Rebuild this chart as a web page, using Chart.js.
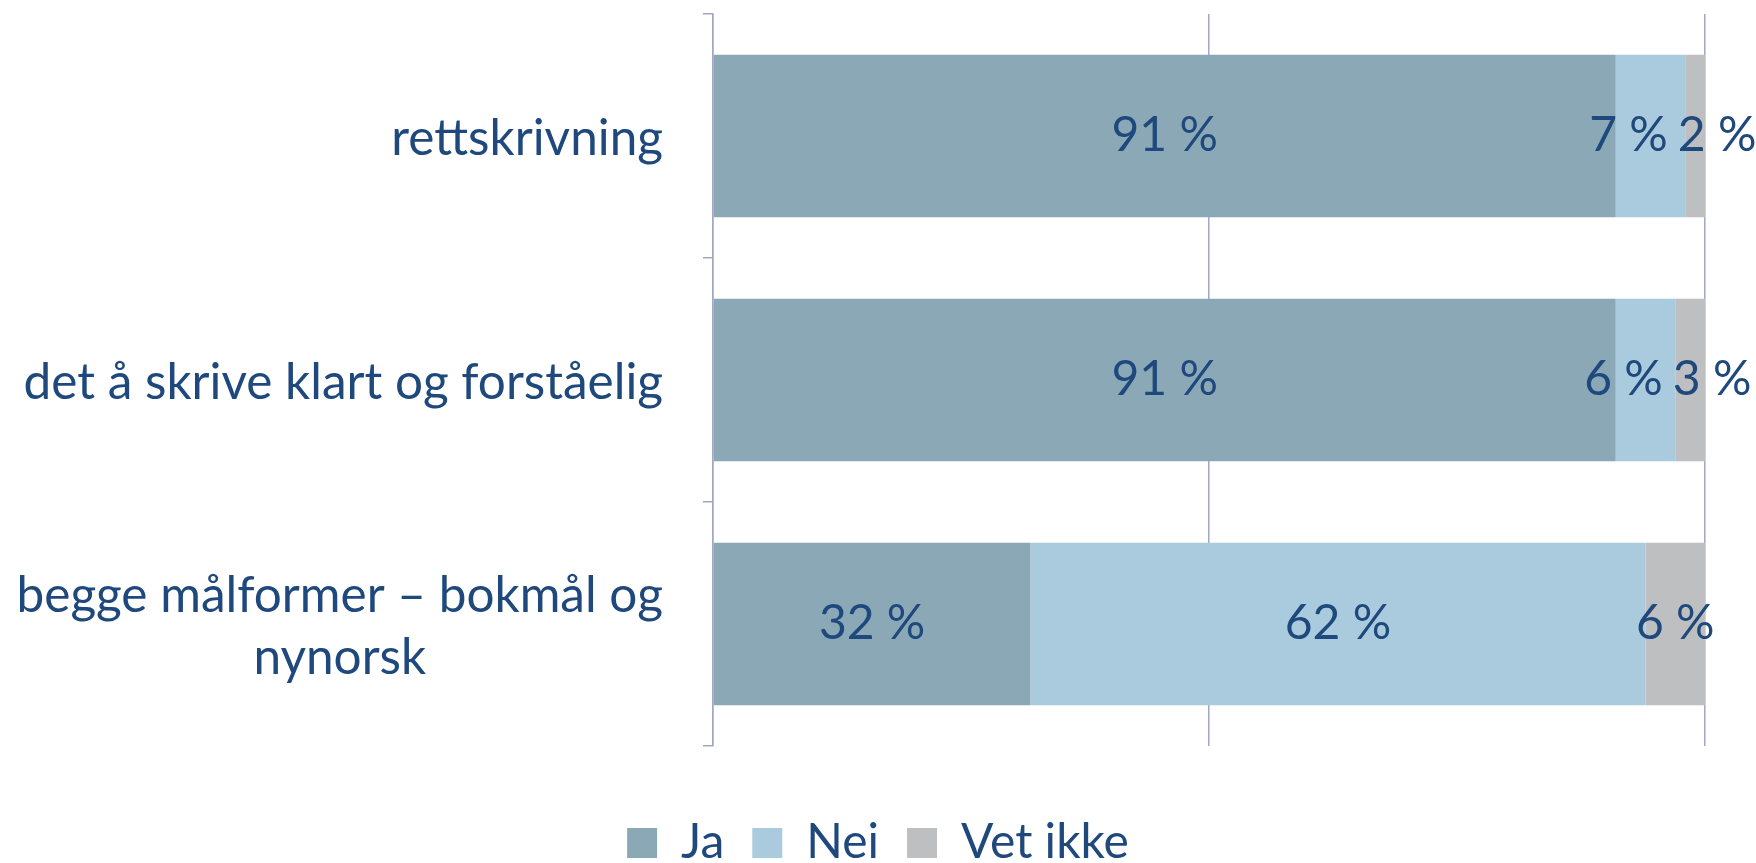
<!DOCTYPE html>
<html>
<head>
<meta charset="utf-8">
<script src="https://cdn.jsdelivr.net/npm/chart.js@4.4.0/dist/chart.umd.min.js"></script>
<style>
  html, body { margin: 0; padding: 0; background: #ffffff; }
  #wrap { width: 1756px; height: 863px; position: relative; }
</style>
</head>
<body>
<div id="wrap"><canvas id="c" width="1756" height="863"></canvas></div>
<script>
// ---- data ----
const categories = [
  ["rettskrivning"],
  ["det å skrive klart og forståelig"],
  ["begge målformer – bokmål og", "nynorsk"]
];
const seriesNames = ["Ja", "Nei", "Vet ikke"];
const jaValues = [91, 91, 32];
const neiValues = [7, 6, 62];
const vetIkkeValues = [2, 3, 6];
const xTicks = [0, 50, 100];

// ---- styles ----
const FONT = "Lato, 'Noto Sans', sans-serif";
const TEXT = '#1F497D';
const GRID = '#A3A6C2';
const COLORS = ['#8BA8B6', '#A9CBDD', '#BEBFC1'];
const LABEL_SIZE = 49.5;
const DATA_SIZE = 48;

const catLabelsPlugin = {
  id: 'catLabels',
  afterDraw(chart) {
    const ctx = chart.ctx;
    const ys = chart.scales.y;
    const right = chart.chartArea.left - 50;
    ctx.save();
    ctx.font = LABEL_SIZE + 'px ' + FONT;
    ctx.fillStyle = TEXT;
    ctx.textBaseline = 'middle';
    const lh = LABEL_SIZE * 1.25;
    chart.data.labels.forEach((lines, i) => {
      const cy = ys.getPixelForValue(i) + 3;
      const widths = lines.map(l => ctx.measureText(l).width);
      const w = Math.max(...widths);
      const cx = right - w / 2;
      const y0 = cy - (lines.length - 1) * lh / 2;
      ctx.textAlign = 'center';
      lines.forEach((l, k) => ctx.fillText(l, lines.length > 1 ? cx : right - widths[k] / 2, y0 + k * lh));
    });
    ctx.restore();
  }
};

const dataLabelsPlugin = {
  id: 'dataLabels',
  afterDatasetsDraw(chart) {
    const ctx = chart.ctx;
    ctx.save();
    ctx.font = DATA_SIZE + 'px ' + FONT;
    ctx.fillStyle = TEXT;
    ctx.textBaseline = 'middle';
    ctx.textAlign = 'center';
    const n = chart.data.labels.length;
    for (let i = 0; i < n; i++) {
      const items = [];
      chart.data.datasets.forEach((ds, d) => {
        const el = chart.getDatasetMeta(d).data[i];
        const txt = ds.data[i] + ' %';
        const w = ctx.measureText(txt).width;
        items.push({ txt, w, x: (el.x + el.base) / 2, y: el.y });
      });
      // resolve overlaps between neighbours
      for (let iter = 0; iter < 5; iter++) {
        for (let k = 0; k < items.length - 1; k++) {
          const a = items[k], b = items[k + 1];
          const gap = 10;
          const ov = (a.x + a.w / 2 + gap) - (b.x - b.w / 2);
          if (ov > 0) { a.x -= ov / 2; b.x += ov / 2; }
        }
      }
      items.forEach(it => ctx.fillText(it.txt, it.x, it.y));
    }
    ctx.restore();
  }
};

new Chart(document.getElementById('c'), {
  type: 'bar',
  data: {
    labels: categories,
    datasets: [
      { label: seriesNames[0], data: jaValues, backgroundColor: COLORS[0] },
      { label: seriesNames[1], data: neiValues, backgroundColor: COLORS[1] },
      { label: seriesNames[2], data: vetIkkeValues, backgroundColor: COLORS[2] }
    ]
  },
  options: {
    indexAxis: 'y',
    responsive: false,
    animation: false,
    devicePixelRatio: 1,
    layout: { padding: { top: 14, right: 51, left: 51, bottom: -14 } },
    datasets: { bar: { barPercentage: 0.665, categoryPercentage: 1 } },
    scales: {
      x: {
        stacked: true, min: 0, max: 100,
        afterBuildTicks(scale) { scale.ticks = xTicks.map(v => ({ value: v })); },
        ticks: { display: false },
        grid: { color: GRID, lineWidth: 1.5, drawTicks: false },
        border: { display: false },
        afterFit(scale) { scale.height = 45; }
      },
      y: {
        stacked: true,
        ticks: { display: false },
        grid: { offset: true, drawOnChartArea: false, drawTicks: true, tickLength: 10, color: GRID, lineWidth: 1.5 },
        border: { display: true, color: GRID, width: 1.5 },
        afterFit(scale) { scale.width = 662; }
      }
    },
    plugins: {
      legend: {
        position: 'bottom',
        labels: {
          color: TEXT,
          font: { family: FONT, size: 48 },
          boxWidth: 30, boxHeight: 30,
          padding: 28
        }
      },
      tooltip: { enabled: false }
    }
  },
  plugins: [catLabelsPlugin, dataLabelsPlugin]
});
</script>
</body>
</html>
